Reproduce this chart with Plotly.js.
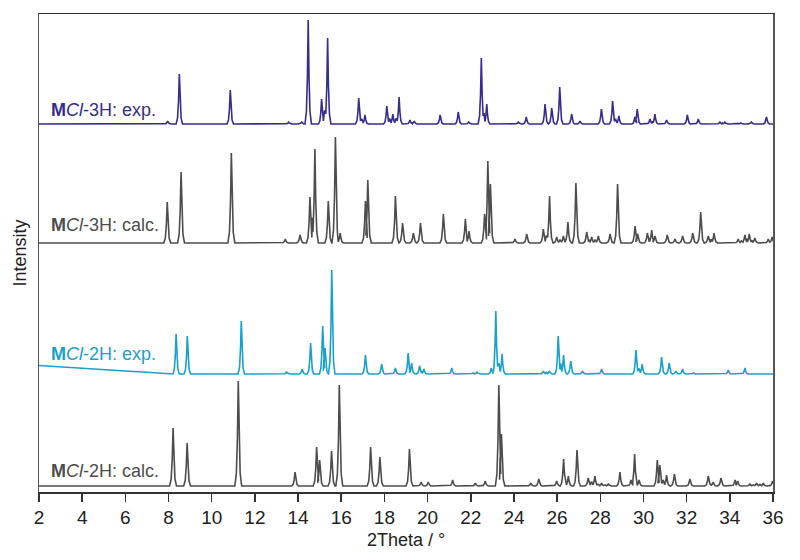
<!DOCTYPE html>
<html>
<head>
<meta charset="utf-8">
<script src="https://cdn.plot.ly/plotly-3.0.1.min.js"></script>
<style>
    html, body { margin: 0; padding: 0; background: #fff; }
    #xrd-graph { width: 800px; height: 560px; }
</style>
</head>
<body>
<div id="xrd-graph"></div>
<script>
// peak positions (2Theta, deg) and heights (arbitrary units)
var exp3hPos = [7.96, 8.50, 10.86, 13.56, 14.17, 14.47, 15.09, 15.37, 16.81, 17.10, 18.11, 18.39, 18.68,
    19.18, 19.38, 20.58, 21.42, 21.90, 22.49, 22.74, 24.20, 24.57, 25.44, 25.75, 26.12, 26.67, 27.06,
    28.05, 28.57, 28.86, 29.61, 29.71, 30.30, 30.53, 31.07, 32.03, 32.54, 33.54, 33.77, 34.20, 34.50,
    35.00, 35.70];
var exp3hHgt = [3, 50, 34, 2, 2, 104, 25, 86, 26, 9, 18, 10, 27,
    4, 3, 9, 12, 2, 66, 20, 2, 7, 20, 16, 37, 10, 3,
    15, 23, 8, 7, 15, 5, 10, 4, 9, 5, 2, 2, 1, 1,
    2, 7];

var calc3hPos = [7.94, 8.58, 10.91, 13.41, 14.09, 14.55, 14.78, 15.40, 15.73, 15.95, 17.12, 17.23, 18.51,
    18.84, 19.34, 19.67, 20.73, 21.75, 21.92, 22.64, 22.79, 22.91, 24.05, 24.59, 25.36, 25.65, 25.98,
    26.29, 26.50, 26.87, 27.37, 27.60, 27.91, 28.45, 28.80, 29.61, 29.73, 30.18, 30.38, 30.53, 31.10,
    31.46, 31.81, 32.28, 32.65, 33.00, 33.27, 34.39, 34.70, 34.90, 35.16, 35.78, 35.96];
var calc3hHgt = [41, 71, 90, 4, 8, 46, 94, 42, 106, 10, 42, 63, 47,
    20, 10, 20, 29, 24, 12, 29, 82, 59, 4, 9, 14, 47, 6,
    7, 21, 60, 11, 6, 7, 9, 59, 17, 9, 10, 13, 7, 8,
    4, 7, 10, 31, 7, 10, 4, 8, 9, 5, 4, 6];

var exp2hPos = [8.35, 8.87, 11.37, 13.47, 14.19, 14.58, 15.14, 15.25, 15.56, 17.12, 17.87, 18.51,
    19.10, 19.26, 19.63, 19.83, 21.12, 22.09, 22.29, 22.95, 23.16, 23.45, 25.36, 25.64, 26.05,
    26.30, 26.63, 27.18, 28.06, 29.65, 29.94, 30.84, 31.19, 31.50, 31.81, 32.31, 33.93, 34.70];
var exp2hHgt = [40, 38, 53, 2, 5, 31, 48, 26, 104, 19, 10, 6,
    21, 11, 8, 5, 6, 1, 2, 6, 63, 20, 3, 3, 38,
    19, 13, 3, 5, 24, 10, 17, 11, 3, 5, 1, 4, 6];

var calc2hPos = [8.21, 8.86, 11.23, 13.86, 14.86, 15.00, 15.55, 15.91, 17.36, 17.79, 19.16, 19.70,
    20.03, 21.16, 22.21, 22.67, 23.30, 23.42, 24.78, 25.15, 25.98, 26.30, 26.52, 26.92, 27.44,
    27.75, 28.06, 28.37, 28.91, 29.42, 29.59, 29.80, 30.64, 30.76, 31.07, 31.43, 32.15, 33.00,
    33.23, 33.59, 34.24, 34.36, 34.93, 35.24, 35.55, 35.98];
var calc2hHgt = [58, 43, 105, 14, 39, 26, 35, 101, 39, 29, 37, 4,
    4, 6, 3, 5, 101, 52, 3, 7, 5, 27, 10, 36, 8,
    10, 3, 2, 14, 6, 32, 6, 26, 21, 11, 12, 7, 10,
    4, 8, 6, 5, 2, 3, 3, 5];

// experimental 2H background rises towards low angle
var exp2hBgX = [2, 3, 4, 5, 6, 7, 7.8];
var exp2hBgY = [8.5, 7, 5.6, 4.3, 3, 1.8, 0.6];

var xTicks = [2, 4, 6, 8, 10, 12, 14, 16, 18, 20, 22, 24, 26, 28, 30, 32, 34, 36];

var patterns = [
    { name: 'MCl-2H: calc.', label: '<b>M</b><i>Cl</i>-2H: calc.', pos: calc2hPos, hgt: calc2hHgt, base: 6, hw: 0.16, color: '#4d4d4d', labelY: 21 },
    { name: 'MCl-2H: exp.', label: '<b>M</b><i>Cl</i>-2H: exp.', pos: exp2hPos, hgt: exp2hHgt, base: 118, hw: 0.15, color: '#1aa0cc', labelY: 138, bgX: exp2hBgX, bgY: exp2hBgY },
    { name: 'MCl-3H: calc.', label: '<b>M</b><i>Cl</i>-3H: calc.', pos: calc3hPos, hgt: calc3hHgt, base: 249, hw: 0.16, color: '#4d4d4d', labelY: 267 },
    { name: 'MCl-3H: exp.', label: '<b>M</b><i>Cl</i>-3H: exp.', pos: exp3hPos, hgt: exp3hHgt, base: 368, hw: 0.15, color: '#362d8c', labelY: 382 }
];

function buildLine(p) {
    var xs = [], ys = [];
    var i;
    if (p.bgX) {
        for (i = 0; i < p.bgX.length; i++) {
            xs.push(p.bgX[i]);
            ys.push(p.base + p.bgY[i]);
        }
    } else {
        xs.push(2);
        ys.push(p.base);
    }
    for (i = 0; i < p.pos.length; i++) {
        var c = p.pos[i], h = p.hgt[i];
        var prev = i > 0 ? p.pos[i - 1] : -99;
        var next = i < p.pos.length - 1 ? p.pos[i + 1] : 99;
        if (c - prev >= 2 * p.hw) {
            xs.push(c - p.hw);
            ys.push(p.base);
        } else {
            // overlapping neighbours: a dip between the two maxima
            xs.push((c + prev) / 2);
            ys.push(p.base + 0.55 * Math.min(h, p.hgt[i - 1]));
        }
        xs.push(c - 0.55 * p.hw);
        ys.push(p.base + 0.12 * h);
        xs.push(c - 0.25 * p.hw);
        ys.push(p.base + 0.45 * h);
        xs.push(c);
        ys.push(p.base + h);
        xs.push(c + 0.25 * p.hw);
        ys.push(p.base + 0.45 * h);
        xs.push(c + 0.55 * p.hw);
        ys.push(p.base + 0.12 * h);
        if (next - c >= 2 * p.hw && c + p.hw < 36) {
            xs.push(c + p.hw);
            ys.push(p.base);
        }
    }
    if (xs[xs.length - 1] < 36) {
        xs.push(36);
        ys.push(p.base);
    }
    return { x: xs, y: ys };
}

function createXRDGraph() {
    var data = [];
    var annotations = [];
    patterns.forEach(function (p) {
        var line = buildLine(p);
        data.push({
            x: line.x,
            y: line.y,
            mode: 'lines',
            name: p.name,
            line: { color: p.color, width: 1.6 },
            hoverinfo: 'skip'
        });
        annotations.push({
            xref: 'paper',
            yref: 'y',
            x: 0.013,
            y: p.labelY,
            xanchor: 'left',
            yanchor: 'middle',
            text: p.label,
            showarrow: false,
            font: { size: 18, color: p.color }
        });
    });

    var layout = {
        width: 800,
        height: 560,
        margin: { l: 39, r: 27, t: 14, b: 68 },
        paper_bgcolor: '#ffffff',
        plot_bgcolor: '#ffffff',
        showlegend: false,
        font: { family: 'Arial, "Liberation Sans", sans-serif', color: '#222' },
        annotations: annotations,
        xaxis: {
            range: [2, 36],
            tickvals: xTicks,
            ticks: 'outside',
            ticklen: 8,
            tickwidth: 1.5,
            tickcolor: '#333',
            tickfont: { size: 19, color: '#222' },
            showline: true,
            linecolor: '#333',
            linewidth: 1.5,
            mirror: true,
            showgrid: false,
            zeroline: false,
            title: { text: '2Theta / °', font: { size: 18, color: '#222' }, standoff: 6 }
        },
        yaxis: {
            range: [0, 478],
            showticklabels: false,
            ticks: '',
            showline: true,
            linecolor: '#555',
            linewidth: 1.5,
            mirror: true,
            showgrid: false,
            zeroline: false,
            title: { text: 'Intensity', font: { size: 18, color: '#222' }, standoff: 6 }
        }
    };
    Plotly.newPlot('xrd-graph', data, layout, { displayModeBar: false, staticPlot: true });
}

createXRDGraph();
</script>
</body>
</html>
